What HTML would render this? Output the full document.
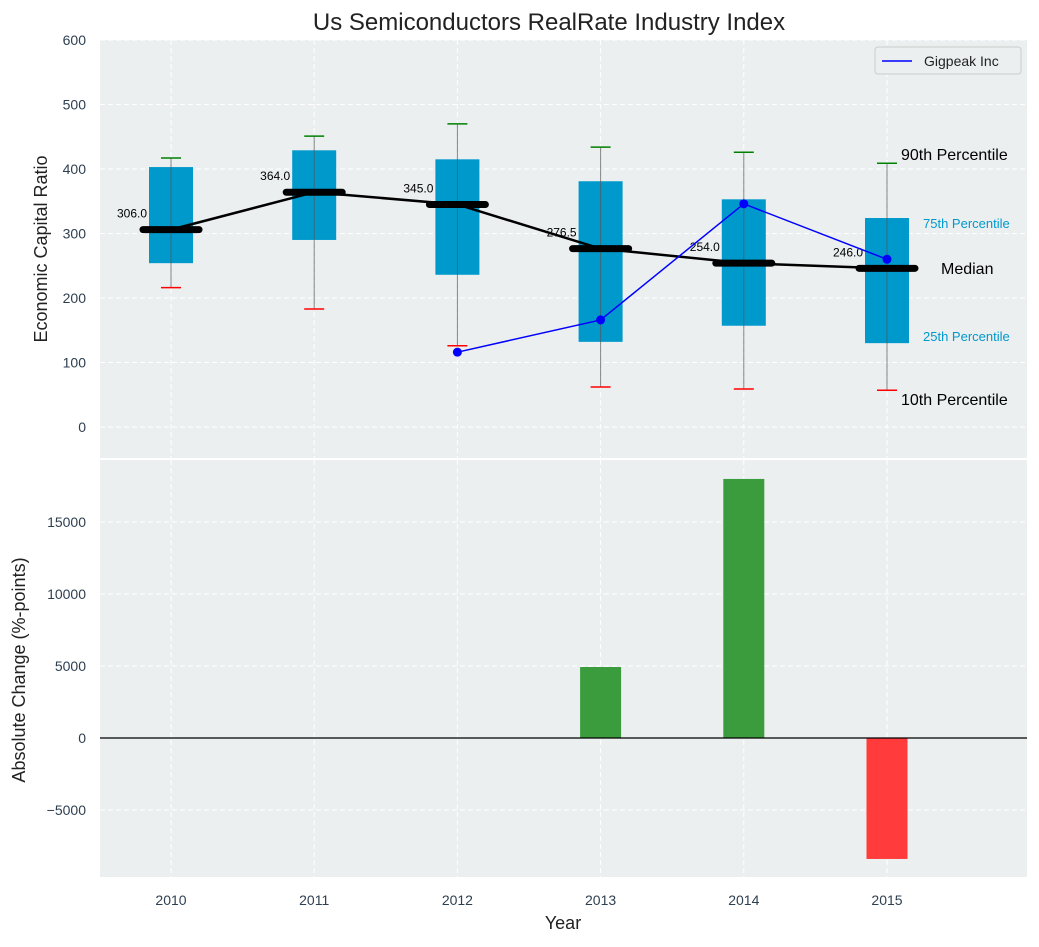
<!DOCTYPE html>
<html><head><meta charset="utf-8"><style>
body{margin:0;background:#fff;}
svg text{font-family:"Liberation Sans","DejaVu Sans",sans-serif;}
</style></head><body>
<svg id="c" width="1039" height="942" xmlns="http://www.w3.org/2000/svg"></svg>
<script>
const years=[2010,2011,2012,2013,2014,2015];
const p10=[216,183,126,62,59,57];
const p25=[254,290,236,132,157,130];
const medians=[306,364,345,276.5,254,246];
const p75=[403,429,415,381,353,324];
const p90=[417,451,470,434,426,409];
const companyYears=[2012,2013,2014,2015];
const companyVals=[116,166,346,260];
const changeYears=[2013,2014,2015];
const changeVals=[4930,17990,-8400];
const topTicks=[0,100,200,300,400,500,600];
const botTicks=[-5000,0,5000,10000,15000];

const NS="http://www.w3.org/2000/svg";
const svg=document.getElementById('c');
function el(t,a,p){const e=document.createElementNS(NS,t);for(const k in a)e.setAttribute(k,a[k]);(p||svg).appendChild(e);return e;}
const L=100,R=1027;
const x=v=>171+(v-2010)*143.2;
const yT=v=>427-v*0.645;
const yB=v=>738-v*72/5000;

let t=el('text',{x:549,y:30,'font-size':24,'text-anchor':'middle',fill:'#222'});t.textContent='Us Semiconductors RealRate Industry Index';


let bg=el('rect',{x:L,y:40,width:R-L,height:418,fill:'#ebeff0'});

let bg2=el('rect',{x:L,y:460,width:R-L,height:417,fill:'#ebeff0'});


topTicks.forEach(v=>{
  el('line',{x1:L,x2:R,y1:yT(v),y2:yT(v),stroke:'#fff','stroke-dasharray':'5,3','stroke-width':1});
  const tt=el('text',{x:86,y:yT(v)+5,'font-size':14,'text-anchor':'end',fill:'#2e3f50'});tt.textContent=v;
  
});
botTicks.forEach(v=>{
  if(v!==0) el('line',{x1:L,x2:R,y1:yB(v),y2:yB(v),stroke:'#fff','stroke-dasharray':'5,3','stroke-width':1});
  const tt=el('text',{x:86,y:yB(v)+5,'font-size':14,'text-anchor':'end',fill:'#2e3f50'});tt.textContent=v<0?'\u2212'+(-v):v;
  
});
years.forEach(v=>{
  el('line',{x1:x(v),x2:x(v),y1:40,y2:458,stroke:'#fff','stroke-dasharray':'5,3'});
  el('line',{x1:x(v),x2:x(v),y1:460,y2:877,stroke:'#fff','stroke-dasharray':'5,3'});
  const tt=el('text',{x:x(v),y:905,'font-size':14,'text-anchor':'middle',fill:'#2e3f50'});tt.textContent=v;
  
});

years.forEach((yr,i)=>{
  const cx=x(yr),w=44;
  const b=el('rect',{x:cx-w/2,y:yT(p75[i]),width:w,height:yT(p25[i])-yT(p75[i]),fill:'#0099cc'});
  
  el('line',{x1:cx,x2:cx,y1:yT(p90[i]),y2:yT(p10[i]),stroke:'#555','stroke-width':1,opacity:0.7});
  el('line',{x1:cx-10,x2:cx+10,y1:yT(p90[i]),y2:yT(p90[i]),stroke:'green','stroke-width':1.5});
  el('line',{x1:cx-10,x2:cx+10,y1:yT(p10[i]),y2:yT(p10[i]),stroke:'red','stroke-width':1.5});
});
let pts=years.map((yr,i)=>x(yr)+','+yT(medians[i])).join(' ');
let ml=el('polyline',{points:pts,fill:'none',stroke:'#000','stroke-width':2.5});

years.forEach((yr,i)=>{
  const cx=x(yr),y=yT(medians[i]);
  const m=el('line',{x1:cx-28,x2:cx+28,y1:y,y2:y,stroke:'#000','stroke-width':7,'stroke-linecap':'round'});
  
  const lt=el('text',{x:cx-24,y:y-12,'font-size':12,'text-anchor':'end',fill:'#000'});lt.textContent=medians[i].toFixed(1);
  
});
let cp=el('polyline',{points:companyYears.map((yr,i)=>x(yr)+','+yT(companyVals[i])).join(' '),fill:'none',stroke:'blue','stroke-width':1.5});

companyYears.forEach((yr,i)=>{const c=el('circle',{cx:x(yr),cy:yT(companyVals[i]),r:4.5,fill:'blue'});
  });

const ann=[["90th Percentile",901,160,16,'#000'],["75th Percentile",923,228,13,'#0099cc'],["Median",941,274,16,'#000'],["25th Percentile",923,341,13,'#0099cc'],["10th Percentile",901,405,16,'#000']];
ann.forEach(a=>{const tt=el('text',{x:a[1],y:a[2],'font-size':a[3],fill:a[4]});tt.textContent=a[0];
  });

const lg=el('g',{});
el('rect',{x:875,y:47,width:146,height:27,fill:'#ebeff0',stroke:'#ccc',rx:3},lg);
el('line',{x1:882,x2:912,y1:61,y2:61,stroke:'blue','stroke-width':1.5},lg);
let lt=el('text',{x:924,y:66,'font-size':14,fill:'#222'},lg);lt.textContent='Gigpeak Inc';

changeYears.forEach((yr,i)=>{
  const v=changeVals[i];
  const b=el('rect',{x:x(yr)-20.5,y:Math.min(yB(v),yB(0)),width:41,height:Math.abs(yB(v)-yB(0)),fill:v>=0?'#3a9c3c':'#ff3b3b'});
  
});
let zl=el('line',{x1:L,x2:R,y1:yB(0),y2:yB(0),stroke:'#000','stroke-width':1.2});


let a1=el('text',{x:47,y:249,'font-size':18,'text-anchor':'middle',fill:'#222',transform:'rotate(-90 47 249)'});a1.textContent='Economic Capital Ratio';

let a2=el('text',{x:25,y:670,'font-size':18,'text-anchor':'middle',fill:'#222',transform:'rotate(-90 25 670)'});a2.textContent='Absolute Change (%-points)';

let a3=el('text',{x:563,y:929,'font-size':18,'text-anchor':'middle',fill:'#222'});a3.textContent='Year';

</script>
</body></html>
